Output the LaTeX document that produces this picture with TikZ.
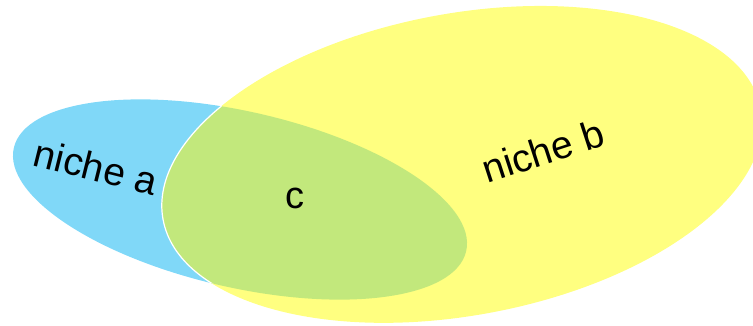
\documentclass[tikz,border=0pt]{standalone}
\usepackage{fontspec}
\setmainfont{Liberation Sans}
\definecolor{nicheblue}{HTML}{80D8F8}
\definecolor{nicheyellow}{HTML}{FFFF80}
\definecolor{nichegreen}{HTML}{C2E87C}
\begin{document}
\begin{tikzpicture}[x=1pt,y=1pt,
  lbl/.style={font=\fontsize{39}{39}\selectfont, inner sep=0pt}]
\useasboundingbox (0,0) rectangle (753,325);
\clip (0,0) rectangle (753,325);
\def\blueell{(240,125.5) ellipse [x radius=232, y radius=88, rotate=-12.85]}
\def\yellowell{(462,160.6) ellipse [x radius=304, y radius=151, rotate=10.45]}
\fill[nicheblue] \blueell;
\fill[nicheyellow] \yellowell;
\begin{scope}
  \clip \blueell;
  \fill[nichegreen] \yellowell;
  \draw[white, line width=1.2pt] \yellowell;
\end{scope}
\node[lbl, rotate=-14] (a) at (96,158) {niche a};
\node[lbl, rotate=18] (b) at (543,174) {niche b};
\node[lbl, font=\fontsize{38}{38}\selectfont] (c) at (295,127) {c};
\end{tikzpicture}
\end{document}
